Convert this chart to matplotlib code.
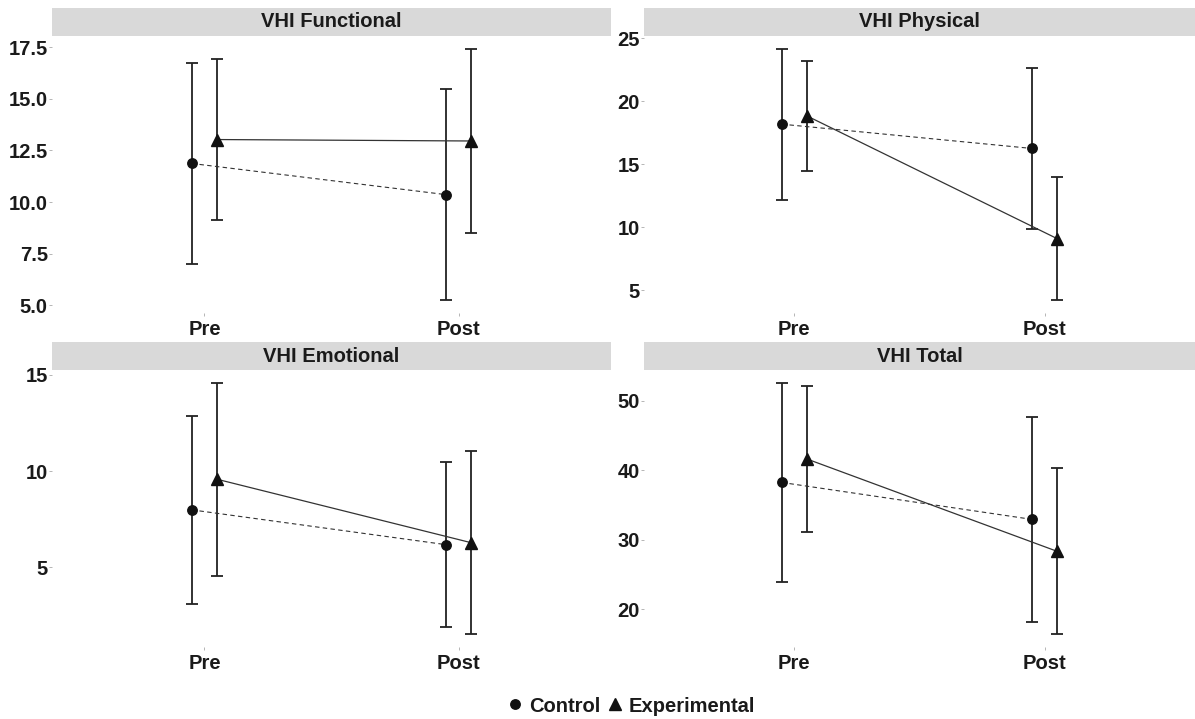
import matplotlib
matplotlib.use("Agg")
import matplotlib.pyplot as plt
from matplotlib.patches import Rectangle
from matplotlib.lines import Line2D
import numpy as np

plt.rcParams['font.family'] = ['Liberation Sans', 'DejaVu Sans']
plt.rcParams['font.weight'] = 'bold'

# ---- data ----
times = ["Pre", "Post"]
groups = ["Control", "Experimental"]
panels = ["VHI Functional", "VHI Physical", "VHI Emotional", "VHI Total"]

functional_mean_control = [11.87, 10.36]
functional_sd_control = [4.86, 5.13]
functional_mean_exp = [13.03, 12.96]
functional_sd_exp = [3.91, 4.48]

physical_mean_control = [18.19, 16.26]
physical_sd_control = [6.0, 6.4]
physical_mean_exp = [18.85, 9.1]
physical_sd_exp = [4.35, 4.9]

emotional_mean_control = [7.98, 6.17]
emotional_sd_control = [4.88, 4.29]
emotional_mean_exp = [9.57, 6.27]
emotional_sd_exp = [5.03, 4.77]

total_mean_control = [38.27, 32.95]
total_sd_control = [14.37, 14.75]
total_mean_exp = [41.65, 28.35]
total_sd_exp = [10.55, 11.95]

yticks_functional = [5.0, 7.5, 10.0, 12.5, 15.0, 17.5]
yticks_physical = [5, 10, 15, 20, 25]
yticks_emotional = [5, 10, 15]
yticks_total = [20, 30, 40, 50]

panel_data = [
    (functional_mean_control, functional_sd_control, functional_mean_exp, functional_sd_exp, yticks_functional, "%.1f"),
    (physical_mean_control, physical_sd_control, physical_mean_exp, physical_sd_exp, yticks_physical, "%d"),
    (emotional_mean_control, emotional_sd_control, emotional_mean_exp, emotional_sd_exp, yticks_emotional, "%d"),
    (total_mean_control, total_sd_control, total_mean_exp, total_sd_exp, yticks_total, "%d"),
]

W, H = 1195, 719
fig = plt.figure(figsize=(W / 100, H / 100), dpi=100)

# axes rectangles in pixel units (left, top, right, bottom)
rects = [
    (52, 36, 611, 313),
    (644, 36, 1195, 313),
    (52, 370, 611, 647),
    (644, 370, 1195, 647),
]
strip_h = 28
txt_color = '#1a1a1a'
line_color = '#222222'
dodge = 0.05
x = np.arange(1, len(times) + 1)

for (l, t, r, b), title, (mc, sc, me, se, yt, fmt) in zip(rects, panels, panel_data):
    ax = fig.add_axes([l / W, 1 - b / H, (r - l) / W, (b - t) / H])
    mc, sc, me, se = map(np.array, (mc, sc, me, se))
    # control
    ax.errorbar(x - dodge, mc, yerr=sc, fmt='none', ecolor=line_color, elinewidth=1.3,
                capsize=4.5, capthick=1.3, zorder=2)
    ax.plot(x - dodge, mc, linestyle=(0, (4, 3)), color='#333333', linewidth=0.8, zorder=3)
    ax.plot(x - dodge, mc, linestyle='none', marker='o', markersize=6.8, color='#111111', zorder=4)
    # experimental
    ax.errorbar(x + dodge, me, yerr=se, fmt='none', ecolor=line_color, elinewidth=1.3,
                capsize=4.5, capthick=1.3, zorder=2)
    ax.plot(x + dodge, me, linestyle='-', color='#333333', linewidth=0.9, zorder=3)
    ax.plot(x + dodge, me, linestyle='none', marker='^', markersize=8, color='#111111', zorder=4)

    lo = min((mc - sc).min(), (me - se).min())
    hi = max((mc + sc).max(), (me + se).max())
    pad = (hi - lo) * 0.05
    ax.set_ylim(lo - pad, hi + pad)
    ax.set_xlim(0.4, 2.6)
    ax.set_xticks(x)
    ax.set_xticklabels(times)
    ax.set_yticks(yt)
    ax.set_yticklabels([fmt % v for v in yt])
    for s in ax.spines.values():
        s.set_visible(False)
    ax.tick_params(axis='both', length=2, width=0.5, color='#999999',
                   labelsize=14.5, labelcolor=txt_color)
    ax.tick_params(axis='y', pad=1)
    ax.tick_params(axis='x', pad=3)
    for lab in ax.get_xticklabels() + ax.get_yticklabels():
        lab.set_fontweight('bold')
    # strip
    sh = strip_h / (b - t)
    ax.add_patch(Rectangle((0, 1), 1, sh, transform=ax.transAxes, clip_on=False,
                           facecolor='#d9d9d9', edgecolor='none'))
    ax.text(0.5, 1 + sh / 2, title, transform=ax.transAxes, ha='center', va='center',
            fontsize=14.5, fontweight='bold', color=txt_color)

handles = [
    Line2D([], [], linestyle='none', marker='o', markersize=6.8, color='#111111', label=groups[0]),
    Line2D([], [], linestyle='none', marker='^', markersize=8, color='#111111', label=groups[1]),
]
leg = fig.legend(handles=handles, loc='center', bbox_to_anchor=(631 / W, 1 - 706 / H), ncol=2,
                 frameon=False, handlelength=0.8, handletextpad=0.3, columnspacing=0.3,
                 prop={'size': 14.5, 'weight': 'bold'})
for t in leg.get_texts():
    t.set_color(txt_color)

fig.savefig("out.png", dpi=100, facecolor='white')
